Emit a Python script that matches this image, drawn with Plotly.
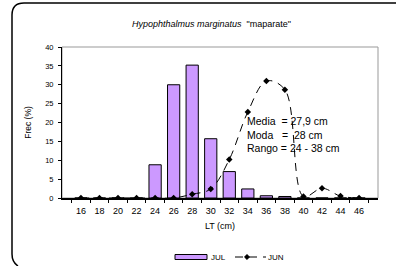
import plotly.graph_objects as go

categories = ["16", "18", "20", "22", "24", "26", "28", "30", "32", "34", "36", "38", "40", "42", "44", "46"]
jul = [0, 0, 0, 0, 8.8, 30.0, 35.2, 15.7, 7.0, 2.4, 0.6, 0.4, 0, 0, 0, 0]
jun = [0, 0, 0, 0, 0, 0, 1.0, 2.4, 10.2, 22.8, 31.0, 28.7, 0.4, 2.6, 0.5, 0]
y_ticks = [0, 5, 10, 15, 20, 25, 30, 35, 40]

W, H = 396, 266
ML, MR, MT, MB = 62, 18, 47, 68
PW, PH = W - ML - MR, H - MT - MB

def px(x):
    return (x - ML) / PW

def py(y):
    return (H - MB - y) / PH

font = "Liberation Sans, Arial, sans-serif"
BAR_COLOR = "#CC99FF"

fig = go.Figure()
fig.add_trace(go.Bar(
    x=categories, y=jul, name="JUL",
    marker=dict(color=BAR_COLOR, line=dict(color="#000000", width=1)),
    width=0.66,
))
fig.add_trace(go.Scatter(
    x=categories, y=jun, name="JUN", mode="lines+markers",
    line=dict(color="#000000", width=1, dash="8px,6px", shape="spline", smoothing=1.0),
    marker=dict(symbol="diamond", size=5, color="#000000"),
))

shapes = [
    # plot area border (top/right, gray)
    dict(type="rect", xref="paper", yref="paper", x0=0, y0=0, x1=1, y1=1,
         line=dict(color="#999999", width=1), layer="below"),
    # outer rounded border
    dict(type="path", xref="paper", yref="paper",
         path=(f"M {px(18)},{py(266)} Q {px(12)},{py(262)} {px(12)},{py(254)} "
               f"L {px(12)},{py(15)} Q {px(12)},{py(3)} {px(24)},{py(3)} L {px(410)},{py(3)}"),
         line=dict(color="#000000", width=1.5)),
    # legend: JUL swatch
    dict(type="rect", xref="paper", yref="paper", x0=px(175), x1=px(207), y0=py(259.5), y1=py(254.5),
         fillcolor=BAR_COLOR, line=dict(color="#000000", width=1)),
    # legend: JUN dashed line
    dict(type="line", xref="paper", yref="paper", x0=px(235), x1=px(266), y0=py(257), y1=py(257),
         line=dict(color="#000000", width=1, dash="8px,6px")),
    # legend: JUN marker
    dict(type="path", xref="paper", yref="paper",
         path=(f"M {px(247)},{py(254.3)} L {px(249.7)},{py(257)} L {px(247)},{py(259.7)} "
               f"L {px(244.3)},{py(257)} Z"),
         fillcolor="#000000", line=dict(color="#000000", width=0.5)),
]

annotations = [
    dict(xref="paper", yref="paper", x=0.5 * (px(120) + px(302)), y=py(24),
         text='<i>Hypophthalmus marginatus</i>  "maparate"', showarrow=False,
         font=dict(family=font, size=9, color="#000000"), xanchor="center", yanchor="middle"),
    dict(xref="paper", yref="paper", x=px(245), y=py(134),
         text="Media  = 27,9 cm<br>Moda   =  28 cm<br>Rango = 24 - 38 cm", showarrow=False,
         align="left", xanchor="left", yanchor="middle",
         font=dict(family=font, size=10.5, color="#000000")),
    dict(xref="paper", yref="paper", x=px(209), y=py(257), text="JUL", showarrow=False,
         xanchor="left", yanchor="middle", font=dict(family=font, size=8, color="#000000")),
    dict(xref="paper", yref="paper", x=px(266), y=py(257), text="JUN", showarrow=False,
         xanchor="left", yanchor="middle", font=dict(family=font, size=8, color="#000000")),
]

fig.update_layout(
    width=W, height=H,
    margin=dict(l=ML, r=MR, t=MT, b=MB, autoexpand=False),
    paper_bgcolor="white", plot_bgcolor="white",
    showlegend=False,
    bargap=0.34,
    shapes=shapes,
    annotations=annotations,
    font=dict(family=font, color="#000000"),
)
fig.update_xaxes(
    type="category", tickson="boundaries", ticks="outside", ticklen=3, tickcolor="#000000",
    showline=True, linecolor="#000000", linewidth=1.5, showgrid=False, tickangle=0,
    ticklabelstandoff=3,
    tickfont=dict(family=font, size=9, color="#000000"),
    title=dict(text="LT (cm)", font=dict(family=font, size=9, color="#000000"), standoff=8),
)
fig.update_yaxes(
    range=[0, 40], tickvals=y_ticks, ticks="outside", ticklen=3, tickcolor="#000000",
    showline=True, linecolor="#000000", linewidth=1, showgrid=False, zeroline=False,
    ticklabelstandoff=3,
    tickfont=dict(family=font, size=7.5, color="#000000"),
    title=dict(text="Frec (%)", font=dict(family=font, size=8.5, color="#000000"), standoff=12),
)

fig.write_html("out.html", config={"displayModeBar": False},
               post_script="document.body.style.margin='0';")
